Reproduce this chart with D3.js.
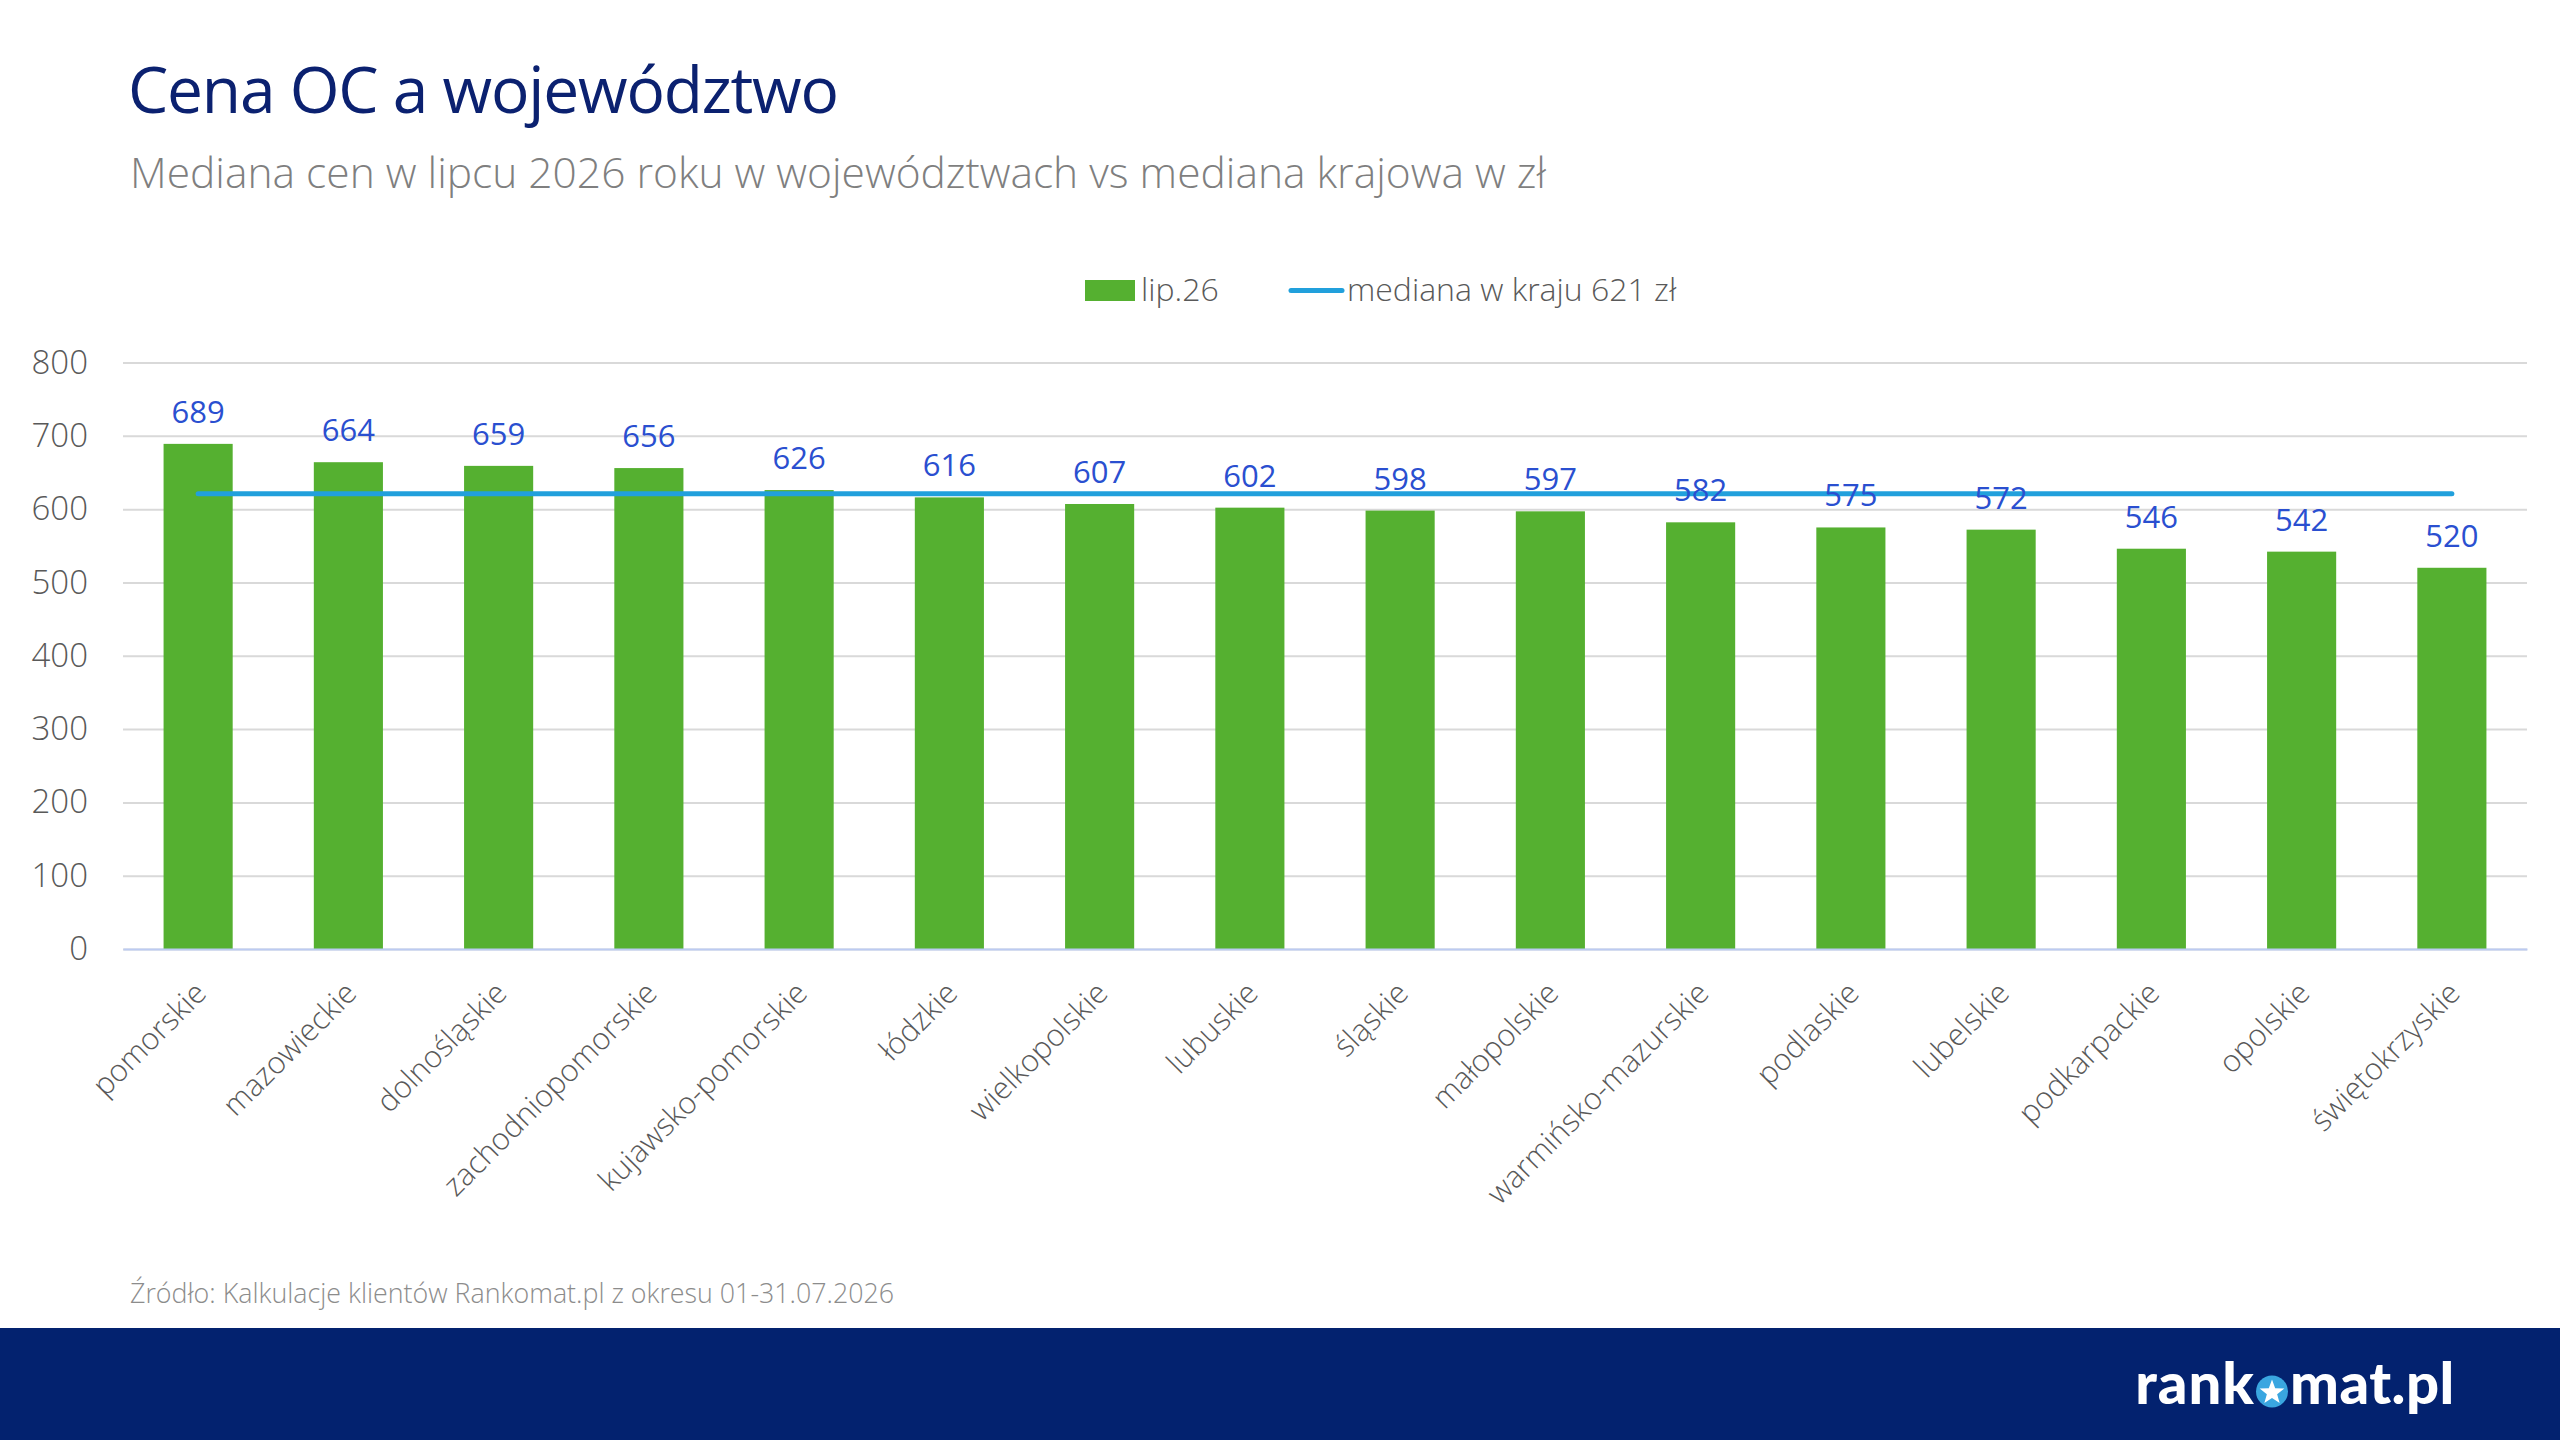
<!DOCTYPE html>
<html>
<head>
<meta charset="utf-8">
<script src="https://cdn.jsdelivr.net/npm/d3@7"></script>
<style>
  body { margin: 0; background: #fff; }
  svg { display: block; font-family: "Open Sans", sans-serif; }
</style>
</head>
<body>
<svg></svg>
<script>
// dane
const regions = ['pomorskie','mazowieckie','dolnośląskie','zachodniopomorskie','kujawsko-pomorskie',
  'łódzkie','wielkopolskie','lubuskie','śląskie','małopolskie','warmińsko-mazurskie',
  'podlaskie','lubelskie','podkarpackie','opolskie','świętokrzyskie'];
const prices = [689, 664, 659, 656, 626, 616, 607, 602, 598, 597, 582, 575, 572, 546, 542, 520];
const nationalMedian = 621;
const yTicks = [0, 100, 200, 300, 400, 500, 600, 700, 800];
const seriesName = 'lip.26';
const medianName = 'mediana w kraju 621 zł';

const W = 2560, H = 1440;
const plotLeft = 123, plotRight = 2527, plotTop = 362.5, plotBottom = 949;

const svg = d3.select('svg')
    .attr('width', W)
    .attr('height', H);

svg.append('rect')
   .attr('width', W)
   .attr('height', H)
   .attr('fill', '#fff');

// tytuły
svg.append('text')
    .text('Cena OC a województwo')
    .attr('x', 128)
    .attr('y', 113)
    .attr('fill', '#0b2170')
    .attr('font-size', 64)
    .attr('letter-spacing', -1.2);

svg.append('text')
    .text('Mediana cen w lipcu 2026 roku w województwach vs mediana krajowa w zł')
    .attr('x', 130)
    .attr('y', 188)
    .attr('fill', '#7f7f7f')
    .attr('font-weight', 300)
    .attr('font-size', 42.5);

// skale
const x = d3.scaleBand()
    .domain(regions)
    .range([plotLeft, plotRight])
    .paddingInner(0.54)
    .paddingOuter(0.27);

const y = d3.scaleLinear()
    .domain([0, 800])
    .range([plotBottom, plotTop]);

// siatka + oś Y
const yAxis = svg.append('g')
    .attr('transform', `translate(${plotLeft},0)`)
    .call(d3.axisLeft(y).tickValues(yTicks).tickSize(-(plotRight - plotLeft)).tickPadding(35));

yAxis.select('.domain').remove();
yAxis.selectAll('line')
    .attr('stroke', '#d9d9d9')
    .attr('stroke-width', 2);
yAxis.selectAll('text')
    .attr('fill', '#595959')
    .attr('font-size', 33)
    .attr('font-weight', 300)
    .attr('font-family', '"Open Sans", sans-serif');

// słupki
svg.append('g')
   .selectAll('rect')
   .data(regions)
   .join('rect')
   .attr('x', d => x(d))
   .attr('y', (d, i) => y(prices[i]))
   .attr('width', x.bandwidth())
   .attr('height', (d, i) => y(0) - y(prices[i]))
   .attr('fill', '#55b030');

// oś X
const xAxis = svg.append('g')
    .attr('transform', `translate(0,${plotBottom})`)
    .call(d3.axisBottom(x).tickSize(0));

xAxis.select('.domain')
    .attr('stroke', '#bccbf2')
    .attr('stroke-width', 2);

xAxis.selectAll('text')
    .attr('fill', '#595959')
    .attr('font-size', 30.5)
    .attr('font-weight', 300)
    .attr('font-family', '"Open Sans", sans-serif')
    .attr('text-anchor', 'end')
    .attr('dy', 0)
    .attr('y', 0)
    .attr('transform', `translate(10,46) rotate(-45)`);

// linia mediany
const cx = d => x(d) + x.bandwidth() / 2;

svg.append('path')
    .datum([regions[0], regions[regions.length - 1]])
    .attr('d', d3.line().x(cx).y(y(nationalMedian)))
    .attr('fill', 'none')
    .attr('stroke', '#21a0dc')
    .attr('stroke-width', 5)
    .attr('stroke-linecap', 'round');

// etykiety wartości
svg.append('g')
   .selectAll('text')
   .data(regions)
   .join('text')
   .text((d, i) => prices[i])
   .attr('x', cx)
   .attr('y', (d, i) => y(prices[i]) - 21)
   .attr('text-anchor', 'middle')
   .attr('fill', '#2a4fd0')
   .attr('font-weight', 400)
   .attr('font-size', 31);

// legenda
svg.append('rect')
   .attr('x', 1085)
   .attr('y', 280)
   .attr('width', 50)
   .attr('height', 21)
   .attr('fill', '#55b030');

svg.append('text')
    .text(seriesName)
    .attr('x', 1141)
    .attr('y', 301)
    .attr('fill', '#595959')
    .attr('font-weight', 300)
    .attr('font-size', 32);

svg.append('line')
    .attr('x1', 1291)
    .attr('x2', 1342)
    .attr('y1', 290.5)
    .attr('y2', 290.5)
    .attr('stroke', '#21a0dc')
    .attr('stroke-width', 5)
    .attr('stroke-linecap', 'round');

svg.append('text')
    .text(medianName)
    .attr('x', 1347)
    .attr('y', 301)
    .attr('fill', '#595959')
    .attr('font-weight', 300)
    .attr('font-size', 32);

// źródło
svg.append('text')
    .text('Źródło: Kalkulacje klientów Rankomat.pl z okresu 01-31.07.2026')
    .attr('x', 130)
    .attr('y', 1303)
    .attr('fill', '#8c8c8c')
    .attr('font-weight', 300)
    .attr('font-size', 26.8);

// stopka
svg.append('rect')
   .attr('x', 0)
   .attr('y', 1328)
   .attr('width', W)
   .attr('height', H - 1328)
   .attr('fill', '#03226f');

svg.append('text')
    .text('rank')
    .attr('x', 2255)
    .attr('y', 1404)
    .attr('text-anchor', 'end')
    .attr('fill', '#fff')
    .attr('font-family', 'Lato, sans-serif')
    .attr('font-weight', 900)
    .attr('letter-spacing', 1)
    .attr('font-size', 58);

svg.append('circle')
   .attr('cx', 2272)
   .attr('cy', 1391.5)
   .attr('r', 16)
   .attr('fill', '#3aa6e0');

const star = d3.range(10).map(i => {
    const r = i % 2 ? 5.4 : 13;
    const a = -Math.PI / 2 + i * Math.PI / 5;
    return [2272 + r * Math.cos(a), 1392.5 + r * Math.sin(a)];
});
svg.append('path')
    .attr('d', d3.line()(star) + 'Z')
    .attr('fill', '#fff');

svg.append('text')
    .text('mat.pl')
    .attr('x', 2290)
    .attr('y', 1404)
    .attr('fill', '#fff')
    .attr('font-family', 'Lato, sans-serif')
    .attr('font-weight', 900)
    .attr('letter-spacing', 0.5)
    .attr('font-size', 58);
</script>
</body>
</html>
